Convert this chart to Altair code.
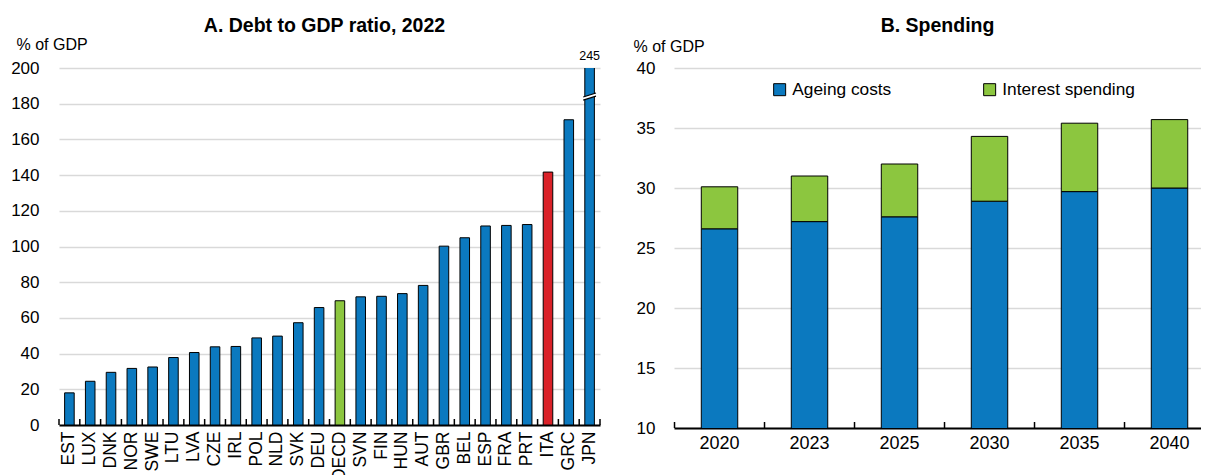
import altair as alt
import pandas as pd

# ---------------- data ----------------
countries = ["EST", "LUX", "DNK", "NOR", "SWE", "LTU", "LVA", "CZE", "IRL", "POL",
             "NLD", "SVK", "DEU", "OECD", "SVN", "FIN", "HUN", "AUT", "GBR", "BEL",
             "ESP", "FRA", "PRT", "ITA", "GRC", "JPN"]
debt = [18.0, 24.5, 29.5, 31.7, 32.5, 37.8, 40.6, 43.8, 44.0, 48.8,
        49.8, 57.3, 65.8, 69.6, 71.8, 72.1, 73.6, 78.2, 100.2, 104.9,
        111.5, 111.8, 112.3, 141.7, 171.0, 245.0]

years = ["2020", "2023", "2025", "2030", "2035", "2040"]
ageing = [26.6, 27.2, 27.6, 28.9, 29.7, 30.0]
interest = [3.5, 3.8, 4.4, 5.4, 5.7, 5.7]
series = ["Ageing costs", "Interest spending"]

BLUE = "#0B79BF"
GREEN = "#8CC63F"
RED = "#DA2128"
GRID = "#D9D9D9"
FONT = "Liberation Sans, Arial, sans-serif"

def grp(c):
    if c == "OECD":
        return "OECD"
    if c == "ITA":
        return "ITA"
    return "Country"

dfA = pd.DataFrame({"country": countries, "value": debt,
                    "grp": [grp(c) for c in countries]})
dfA_last = dfA[dfA["country"] == countries[-1]]

rows = []
for i, y in enumerate(years):
    rows.append({"year": y, "series": series[0], "value": ageing[i], "ord": 0})
    rows.append({"year": y, "series": series[1], "value": interest[i], "ord": 1})
dfB = pd.DataFrame(rows)
dfB_years = pd.DataFrame({"year": years})

# ---------------- panel A ----------------
WA, HA = 541, 357
stepA = WA / len(countries)

xA = alt.X("country:N", sort=countries,
           scale=alt.Scale(paddingInner=0.54, paddingOuter=0.27),
           axis=alt.Axis(title=None, labelAngle=-90, labelAlign="right",
                         labelBaseline="middle", labelPadding=6, ticks=False,
                         domainColor="black", domainWidth=2, grid=False,
                         labelFontSize=17.5, labelOverlap=False))
yscaleA = alt.Scale(domain=[0, 200], nice=False)
yaxisA = alt.Axis(values=list(range(0, 201, 20)), title="% of GDP",
                  titleAngle=0, titleX=-43, titleY=-24, titleAlign="left",
                  titleBaseline="middle", domain=False, ticks=False,
                  labelPadding=20, gridColor=GRID, gridWidth=1.5,
                  labelFontSize=17, labelOverlap=False, tickCount=11)

barsA = alt.Chart(dfA).mark_bar(clip=True, stroke="black", strokeWidth=1).encode(
    x=xA, y=alt.Y("value:Q", scale=yscaleA, axis=yaxisA),
    color=alt.Color("grp:N", scale=alt.Scale(domain=["Country", "OECD", "ITA"],
                                             range=[BLUE, GREEN, RED]), legend=None))

ticksA = alt.Chart(dfA).mark_rule(color="black", strokeWidth=1.5, xOffset=-stepA / 2).encode(
    x=alt.X("country:N", sort=countries), y=alt.value(HA), y2=alt.value(HA - 6))
tickA_end = alt.Chart(dfA_last).mark_rule(color="black", strokeWidth=1.5, xOffset=stepA / 2).encode(
    x=alt.X("country:N", sort=countries), y=alt.value(HA), y2=alt.value(HA - 6))

labelA = alt.Chart(dfA_last).mark_text(dy=-12, fontSize=12.5, font=FONT, color="black").encode(
    x=alt.X("country:N", sort=countries),
    y=alt.Y(datum=200, scale=yscaleA, axis=yaxisA),
    text=alt.Text("value:Q", format="d"))

gap_path = "M-0.8,0.05 L0.8,-0.45 L0.8,-0.05 L-0.8,0.45 Z"
line_path = "M-0.8,0.05 L0.8,-0.45 M-0.8,0.45 L0.8,-0.05"
breakA_fill = alt.Chart(dfA_last).mark_point(shape=gap_path, size=256, filled=True,
                                             fill="white", strokeWidth=0, opacity=1).encode(
    x=alt.X("country:N", sort=countries),
    y=alt.Y(datum=184, scale=yscaleA, axis=yaxisA))
breakA_line = alt.Chart(dfA_last).mark_point(shape=line_path, size=256, filled=False,
                                             stroke="black", strokeWidth=1.2, opacity=1).encode(
    x=alt.X("country:N", sort=countries),
    y=alt.Y(datum=184, scale=yscaleA, axis=yaxisA))

panelA = alt.layer(barsA, ticksA, tickA_end, labelA, breakA_fill, breakA_line).properties(
    width=WA, height=HA,
    title=alt.Title("A. Debt to GDP ratio, 2022", font=FONT, fontSize=19.5,
                    fontWeight="bold", anchor="middle", offset=0, dx=-5, color="black"))

# ---------------- panel B ----------------
WB, HB = 527, 360
stepB = 90.0
PI_B = 0.595
PO_B = (WB / stepB - (len(years) - PI_B)) / 2
ALIGN_B = 0.673

xB = alt.X("year:N", sort=years,
           scale=alt.Scale(paddingInner=PI_B, paddingOuter=PO_B, align=ALIGN_B),
           axis=alt.Axis(title=None, labelAngle=0, labelPadding=6, ticks=False,
                         domainColor="black", domainWidth=2, grid=False,
                         labelFontSize=18))
yB = alt.Y("value:Q", stack="zero",
           scale=alt.Scale(domain=[10, 40], nice=False, zero=False),
           axis=alt.Axis(values=list(range(10, 41, 5)), title="% of GDP",
                         titleAngle=0, titleX=-41, titleY=-22, titleAlign="left",
                         titleBaseline="middle", domain=False, ticks=False,
                         labelPadding=19, gridColor=GRID, gridWidth=1.5,
                         labelFontSize=17, labelOverlap=False))

barsB = alt.Chart(dfB).mark_bar(clip=True, stroke="black", strokeWidth=1).encode(
    x=xB, y=yB,
    color=alt.Color("series:N", sort=series,
                    scale=alt.Scale(domain=series, range=[BLUE, GREEN]),
                    legend=alt.Legend(title=None, orient="none", legendX=97, legendY=13,
                                      direction="horizontal", symbolType="square",
                                      symbolSize=144, symbolStrokeColor="black",
                                      symbolStrokeWidth=1, labelFontSize=17.3,
                                      labelFont=FONT, labelColor="black",
                                      columnPadding=89, labelOffset=4, padding=0)),
    order=alt.Order("ord:Q"))

ticksB = alt.Chart(dfB_years).mark_rule(color="black", strokeWidth=1.5, xOffset=-stepB / 2).encode(
    x=alt.X("year:N", sort=years), y=alt.value(HB), y2=alt.value(HB - 6))

panelB = alt.layer(barsB, ticksB).properties(
    width=WB, height=HB,
    title=alt.Title("B. Spending", font=FONT, fontSize=19.5, fontWeight="bold",
                    anchor="middle", offset=0, dy=-2, color="black"))

chart = alt.hconcat(panelA, panelB, spacing=74, bounds="flush").resolve_scale(
    color="independent"
).resolve_legend(color="independent").properties(
    padding={"left": 2, "top": 7, "right": 0, "bottom": 2}
).configure_view(stroke=None).configure_axis(
    labelFont=FONT, labelColor="black", titleFont=FONT, titleColor="black",
    titleFontSize=16, titleFontWeight="normal"
)

chart.save("out.html", embed_options={"renderer": "svg", "actions": False})
